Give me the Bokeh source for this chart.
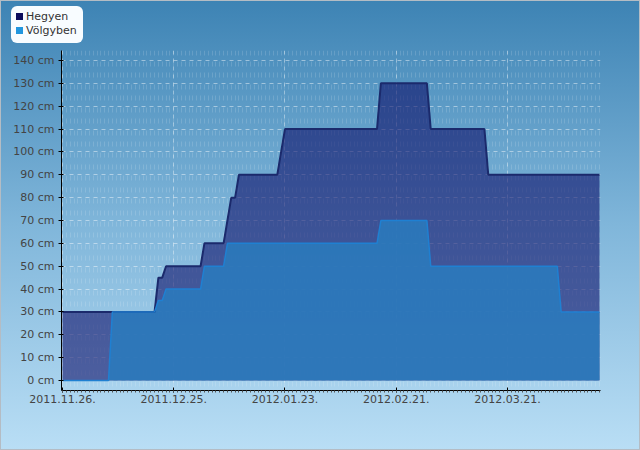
import pandas as pd
from bokeh.plotting import figure
from bokeh.layouts import column
from bokeh.models import (Range1d, FixedTicker, DatetimeTickFormatter, PrintfTickFormatter,
                          ColumnDataSource, Div)
from bokeh.embed import file_html
from bokeh.resources import INLINE

# ---- data ----
hegyen_dates = ["2011-11-26", "2011-12-20", "2011-12-21", "2011-12-22", "2011-12-23",
                "2012-01-01", "2012-01-02", "2012-01-07", "2012-01-08", "2012-01-09",
                "2012-01-10", "2012-01-11", "2012-01-21", "2012-01-22", "2012-01-23",
                "2012-02-16", "2012-02-17", "2012-02-29", "2012-03-01", "2012-03-15",
                "2012-03-16", "2012-04-14"]
hegyen_cm = [30, 30, 45, 45, 50, 50, 60, 60, 70, 80, 80, 90, 90, 100, 110,
             110, 130, 130, 110, 110, 90, 90]

volgyben_dates = ["2011-11-26", "2011-12-08", "2011-12-09", "2011-12-20", "2011-12-21",
                  "2011-12-22", "2011-12-23", "2012-01-01", "2012-01-02", "2012-01-07",
                  "2012-01-08", "2012-02-16", "2012-02-17", "2012-02-29", "2012-03-01",
                  "2012-04-03", "2012-04-04", "2012-04-14"]
volgyben_cm = [0, 0, 30, 30, 35, 35, 40, 40, 50, 50, 60, 60, 70, 70, 50, 50, 30, 30]

x_tick_dates = ["2011-11-26", "2011-12-25", "2012-01-23", "2012-02-21", "2012-03-21"]
y_ticks = [0, 10, 20, 30, 40, 50, 60, 70, 80, 90, 100, 110, 120, 130, 140]
series_names = ["Hegyen", "Völgyben"]
legend_colors = ["#0c0c5c", "#2196de"]


def to_ms(dates):
    idx = pd.to_datetime(pd.Series(dates))
    return [float(v) for v in ((idx - pd.Timestamp("1970-01-01")) // pd.Timedelta("1ms"))]


DAY = 86400000.0
hx = to_ms(hegyen_dates)
vx = to_ms(volgyben_dates)
xt = to_ms(x_tick_dates)
x_first, x_last = hx[0], hx[-1]
minor = [x_first + i * DAY for i in range(int(round((x_last - x_first) / DAY)) + 1)]

p = figure(width=640, height=450, x_axis_type="datetime", output_backend="svg",
           toolbar_location=None,
           x_range=Range1d(x_first - 0.26 * DAY, x_last + 0.26 * DAY),
           y_range=Range1d(-4.375, 144.375),
           min_border_left=61, min_border_right=40, min_border_top=50, min_border_bottom=60)
p.border_fill_color = None
p.background_fill_color = None
p.outline_line_color = None
p.styles = {
    "background-image": "linear-gradient(to bottom, #3d83b4 0%, #80b6da 50%, #b9def5 100%)",
    "box-shadow": "inset 0 0 0 1px #b4bcc4",
}

# axes
p.xaxis.ticker = FixedTicker(ticks=xt, minor_ticks=minor)
fmt = "%Y.%m.%d."
p.xaxis.formatter = DatetimeTickFormatter(
    microseconds=fmt, milliseconds=fmt, seconds=fmt, minsec=fmt, minutes=fmt,
    hourmin=fmt, hours=fmt, days=fmt, months=fmt, years=fmt)
p.yaxis.ticker = FixedTicker(ticks=y_ticks)
p.yaxis.formatter = PrintfTickFormatter(format="%d cm")

for ax in (p.xaxis[0], p.yaxis[0]):
    ax.axis_line_color = "black"
    ax.axis_line_width = 1
    ax.major_tick_line_color = "black"
    ax.major_label_text_font = "DejaVu Sans"
    ax.major_label_text_font_size = "11px"
    ax.major_label_text_color = "#444444"

p.xaxis.major_tick_in = 3
p.xaxis.major_tick_out = 2
p.xaxis.minor_tick_in = 0
p.xaxis.minor_tick_out = 2
p.xaxis.minor_tick_line_color = "#555555"
p.xaxis.major_label_standoff = 2
p.yaxis.major_tick_in = 2
p.yaxis.major_tick_out = 3
p.yaxis.major_label_standoff = 4

# grids
p.ygrid.grid_line_color = "white"
p.ygrid.grid_line_alpha = 0.45
p.ygrid.grid_line_dash = "4 4"
p.xgrid.grid_line_color = "white"
p.xgrid.grid_line_alpha = 0.4
p.xgrid.grid_line_dash = "4 4"
p.xgrid.minor_grid_line_color = "white"
p.xgrid.minor_grid_line_alpha = 0.14
p.xgrid.minor_grid_line_dash = "5 6 5 6 5 7 5 6 5 7 5 6 5 7"
p.xgrid.minor_grid_line_dash_offset = 7

# areas
hsrc = ColumnDataSource(dict(x=hx, y=hegyen_cm))
vsrc = ColumnDataSource(dict(x=vx, y=volgyben_cm))
p.varea(x="x", y1=0, y2="y", source=hsrc, fill_color="#0b0b66", fill_alpha=0.58)
p.varea(x="x", y1=0, y2="y", source=vsrc, fill_color="#2a7bbe", fill_alpha=0.86)
p.line(x="x", y="y", source=hsrc, line_color="#1b2a6c", line_width=2)
p.line(x="x", y="y", source=vsrc, line_color="#1f80d2", line_width=1.5)

# legend box (top-left, outside the plotting frame, as in the reference)
swatch = ("<span style='display:inline-block;width:7px;height:7px;background:{c};"
          "margin-right:3px;vertical-align:middle;position:relative;top:-1px'></span>")
rows = "".join(
    "<div style='height:14px;line-height:14px;white-space:nowrap'>"
    + swatch.format(c=c)
    + "<span style='vertical-align:middle'>" + name + "</span></div>"
    for name, c in zip(series_names, legend_colors))
legend_div = Div(text=rows, width=72, height=37, styles={
    "position": "absolute", "left": "6px", "top": "1px",
    "background-color": "#f8fcff", "border-radius": "6px",
    "padding": "4px 0px 0px 5px", "box-sizing": "border-box",
    "font-family": "DejaVu Sans", "font-size": "11px", "color": "#333333",
    "z-index": "10",
})

layout = column(p, legend_div)
open("out.html", "w").write(file_html(layout, INLINE))
